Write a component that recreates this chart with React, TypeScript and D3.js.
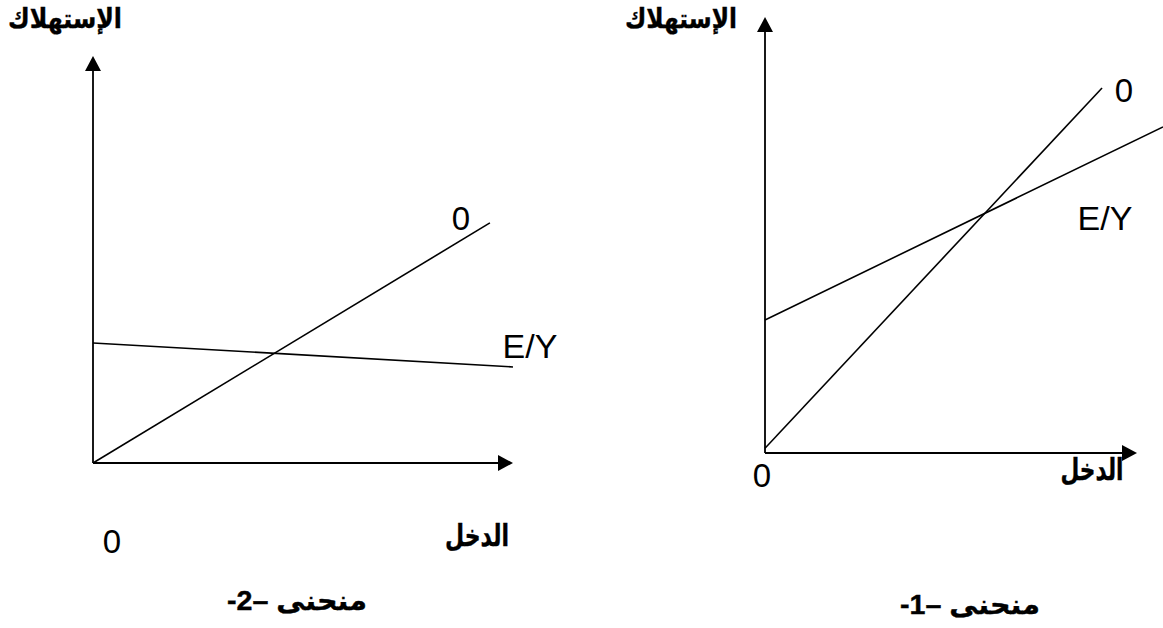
import React from "react";
import * as d3 from "d3";

// Panel 2 (left): منحنى –2-
const panel2Lines = [
  { name: "0", points: [[0, 0], [9.45, 5.9]] as [number, number][] },
  { name: "E/Y", points: [[0, 2.95], [10, 2.36]] as [number, number][] },
];
// Panel 1 (right): منحنى –1-
const panel1Lines = [
  { name: "0", points: [[0, 0.11], [9.06, 8.37]] as [number, number][] },
  { name: "E/Y", points: [[0, 3.05], [10.7, 7.48]] as [number, number][] },
];

const yAxisLabel = "الإستهلاك";
const xAxisLabel = "الدخل";
const originLabel = "0";
const titles = ["منحنى –2-", "منحنى –1-"];

const W = 1163;
const H = 628;
const AR = "'Liberation Sans', 'DejaVu Sans', sans-serif";
const LAT = "'Liberation Sans', Arial, sans-serif";

function Arrow({ x, y, dir }: { x: number; y: number; dir: "up" | "right" }) {
  const L = 15, hw = 8;
  const d =
    dir === "up"
      ? `M${x},${y} L${x - hw},${y + L} L${x + hw},${y + L} Z`
      : `M${x},${y} L${x - L},${y - hw} L${x - L},${y + hw} Z`;
  return <path d={d} fill="#000" />;
}

function ArText({ x, y, w, size, children }: { x: number; y: number; w: number; size: number; children: string }) {
  return (
    <text
      x={x}
      y={y}
      fontFamily={AR}
      fontWeight="bold"
      fontSize={size}
      textAnchor="middle"
      direction="rtl"
      textLength={w}
      lengthAdjust="spacingAndGlyphs"
      stroke="#000"
      strokeWidth={0.4}
    >
      {children}
    </text>
  );
}

function Panel({
  lines,
  xr,
  yr,
  labels,
}: {
  lines: { name: string; points: [number, number][] }[];
  xr: [number, number];
  yr: [number, number];
  labels: any;
}) {
  const x = d3.scaleLinear().domain([0, 10]).range(xr);
  const y = d3.scaleLinear().domain([0, 10]).range(yr);
  const line = d3
    .line<[number, number]>()
    .x((d) => x(d[0]))
    .y((d) => y(d[1]));
  return (
    <g>
      <line x1={x(0)} y1={y(0)} x2={x(0)} y2={y(10) + 10} stroke="#000" strokeWidth={1.8} />
      <line x1={x(0)} y1={y(0)} x2={x(10) - 10} y2={y(0)} stroke="#000" strokeWidth={1.8} />
      <Arrow x={x(0)} y={y(10)} dir="up" />
      <Arrow x={x(10)} y={y(0)} dir="right" />
      {lines.map((l) => (
        <path key={l.name} d={line(l.points) || ""} fill="none" stroke="#000" strokeWidth={1.6} />
      ))}
      {labels}
    </g>
  );
}

export default function App() {
  return (
    <svg
      width={W}
      height={H}
      style={{ position: "absolute", left: 0, top: 0, background: "#fff" }}
    >
      <rect width={W} height={H} fill="#fff" />
      <Panel
        lines={panel2Lines}
        xr={[93, 513]}
        yr={[463, 56]}
        labels={
          <g>
            <ArText x={65} y={28} w={114} size={27}>{yAxisLabel}</ArText>
            <text x={461} y={230} fontFamily={LAT} fontSize={33} textAnchor="middle">{panel2Lines[0].name}</text>
            <text x={530} y={358} fontFamily={LAT} fontSize={34} textAnchor="middle">{panel2Lines[1].name}</text>
            <text x={112} y={553} fontFamily={LAT} fontSize={33} textAnchor="middle">{originLabel}</text>
            <ArText x={477} y={546} w={64} size={30}>{xAxisLabel}</ArText>
            <ArText x={297} y={610} w={140} size={27}>{titles[0]}</ArText>
          </g>
        }
      />
      <Panel
        lines={panel1Lines}
        xr={[765, 1137]}
        yr={[453, 17]}
        labels={
          <g>
            <ArText x={681} y={28} w={112} size={27}>{yAxisLabel}</ArText>
            <text x={1124} y={102} fontFamily={LAT} fontSize={33} textAnchor="middle">{panel1Lines[0].name}</text>
            <text x={1105} y={230} fontFamily={LAT} fontSize={34} textAnchor="middle">{panel1Lines[1].name}</text>
            <text x={762} y={487} fontFamily={LAT} fontSize={33} textAnchor="middle">{originLabel}</text>
            <ArText x={1092} y={480} w={63} size={30}>{xAxisLabel}</ArText>
            <ArText x={970} y={614} w={140} size={27}>{titles[1]}</ArText>
          </g>
        }
      />
    </svg>
  );
}
